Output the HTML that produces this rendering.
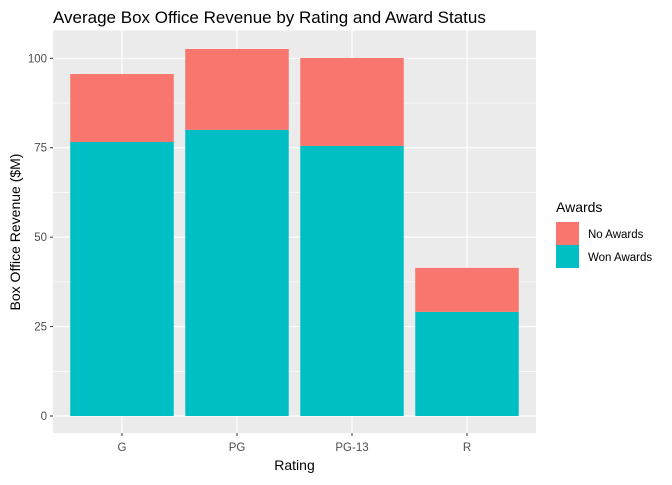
<!DOCTYPE html>
<html><head><meta charset="utf-8"><style>
body{margin:0;background:#fff;font-family:"Liberation Sans",Arial,sans-serif}
</style></head><body>
<svg id="chart" width="672" height="480" xmlns="http://www.w3.org/2000/svg" font-family="Liberation Sans, Arial, sans-serif">
<text x="53" y="23" font-size="17" fill="#000">Average Box Office Revenue by Rating and Award Status</text>
<rect x="53" y="30.5" width="483" height="402.5" fill="#ebebeb"/>
<g id="grid"></g><g id="bars"></g><g id="axes"></g>
<text x="294.5" y="470" font-size="14" text-anchor="middle" fill="#000">Rating</text>
<text transform="translate(20,232) rotate(-90)" font-size="14" text-anchor="middle" fill="#000">Box Office Revenue ($M)</text>
<g>
<text x="556" y="212" font-size="14" fill="#000">Awards</text>
<rect x="556" y="222" width="23" height="23" fill="#f8766d"/>
<text x="588" y="238" font-size="11.5" fill="#000">No Awards</text>
<rect x="556" y="245" width="23" height="23" fill="#00bfc4"/>
<text x="588" y="261" font-size="11.5" fill="#000">Won Awards</text>
</g>
</svg>
<script>
const categories=["G","PG","PG-13","R"];
const wonAwards=[76.6,80.0,75.5,29.1];
const noAwards=[19.0,22.6,24.6,12.3];
const yTicks=[0,25,50,75,100];
const NS="http://www.w3.org/2000/svg";
const px0=53,pw=483,y0=416,perUnit=3.577;
const xs=i=>px0+(i+1-0.4)/4.2*pw;
const bw=0.9*pw/4.2;
const ys=v=>y0-v*perUnit;
function mk(t,a,p){const e=document.createElementNS(NS,t);for(const k in a)e.setAttribute(k,a[k]);p.appendChild(e);return e;}
const grid=document.getElementById('grid'),bars=document.getElementById('bars'),axes=document.getElementById('axes');
for(let i=0;i<yTicks.length-1;i++){const m=(yTicks[i]+yTicks[i+1])/2;
 const l=mk('line',{x1:px0,x2:px0+pw,y1:ys(m),y2:ys(m),stroke:'#fff','stroke-width':0.6},grid);
 
 }
yTicks.forEach(t=>{const l=mk('line',{x1:px0,x2:px0+pw,y1:ys(t),y2:ys(t),stroke:'#fff','stroke-width':1.2},grid);
 
 
 const tk=mk('line',{x1:px0-3,x2:px0,y1:ys(t),y2:ys(t),stroke:'#333'},axes);
 
 
 const tx=mk('text',{x:px0-6,y:ys(t)+4,'font-size':11.5,'text-anchor':'end',fill:'#4d4d4d'},axes);
 tx.textContent=t;
 
 });
categories.forEach((c,i)=>{const x=xs(i);
 const g=mk('line',{x1:x,x2:x,y1:30.5,y2:433,stroke:'#fff','stroke-width':1.2},grid);
 
 
 const w=mk('rect',{x:x-bw/2,y:ys(wonAwards[i]),width:bw,height:wonAwards[i]*perUnit,fill:'#00bfc4'},bars);
 
 
 const n=mk('rect',{x:x-bw/2,y:ys(wonAwards[i]+noAwards[i]),width:bw,height:noAwards[i]*perUnit,fill:'#f8766d'},bars);
 
 
 const tk=mk('line',{x1:x,x2:x,y1:433,y2:436,stroke:'#333'},axes);
 
 
 const tx=mk('text',{x:x,y:451,'font-size':11.5,'text-anchor':'middle',fill:'#4d4d4d'},axes);
 tx.textContent=c;
 
 });
</script>
</body></html>
